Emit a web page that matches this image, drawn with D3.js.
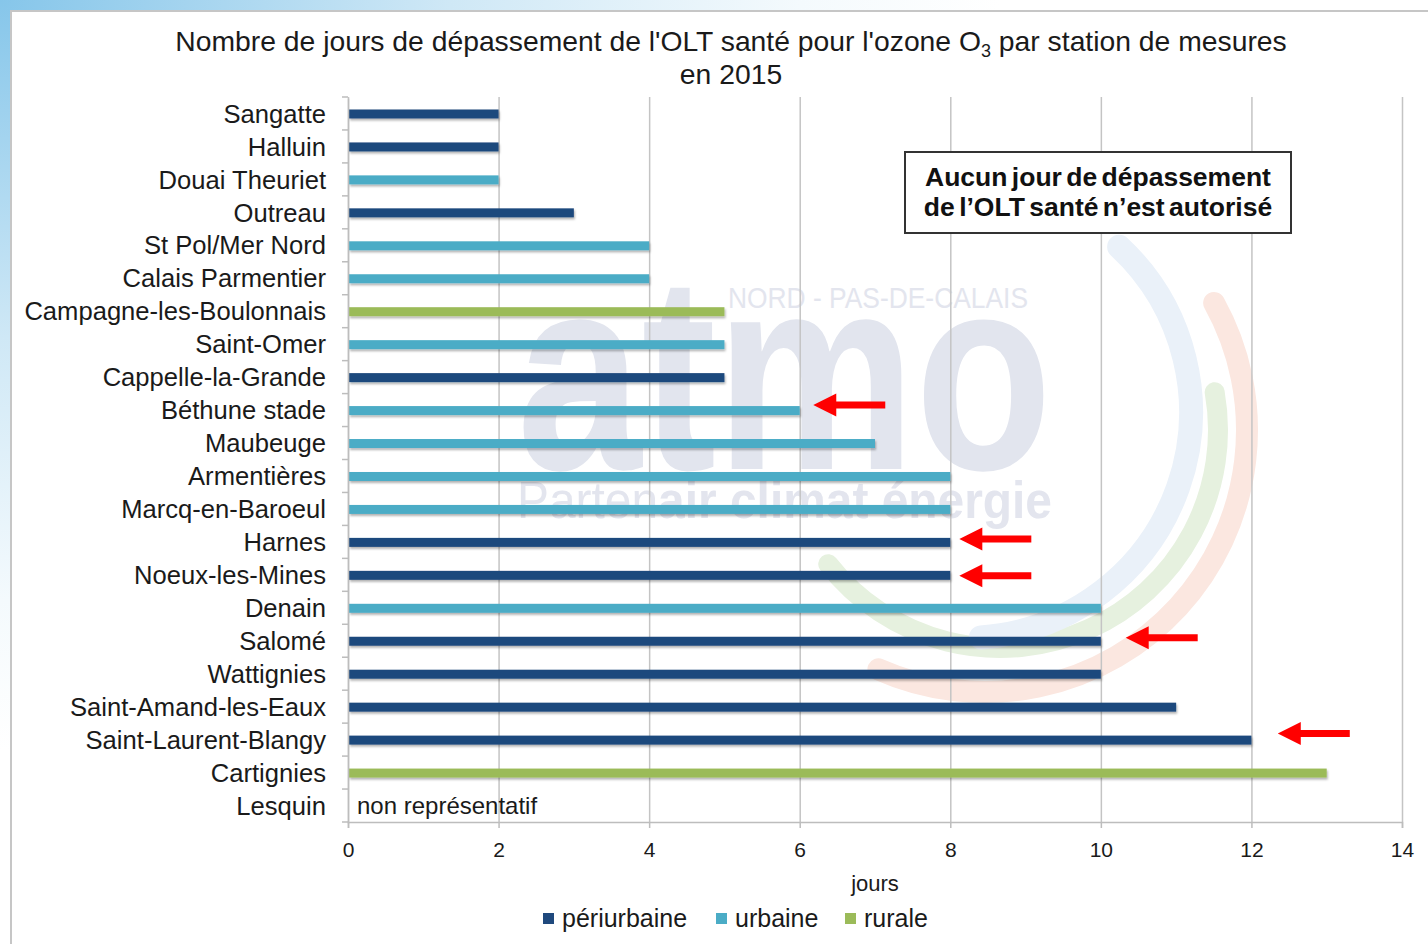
<!DOCTYPE html>
<html><head><meta charset="utf-8">
<script src="https://cdn.jsdelivr.net/npm/d3@7"></script>
<style>html,body{margin:0;padding:0;background:#fff;overflow:hidden}</style>
</head><body><svg id="c" width="1428" height="944"></svg>
<script>
// ---- data ----
const stations = ["Sangatte","Halluin","Douai Theuriet","Outreau","St Pol/Mer Nord","Calais Parmentier",
  "Campagne-les-Boulonnais","Saint-Omer","Cappelle-la-Grande","Béthune stade","Maubeuge","Armentières",
  "Marcq-en-Baroeul","Harnes","Noeux-les-Mines","Denain","Salomé","Wattignies","Saint-Amand-les-Eaux",
  "Saint-Laurent-Blangy","Cartignies","Lesquin"];
const values = [2,2,2,3,4,4,5,5,5,6,7,8,8,8,8,10,10,10,11,12,13,null];
const types = ["périurbaine","périurbaine","urbaine","périurbaine","urbaine","urbaine","rurale","urbaine",
  "périurbaine","urbaine","urbaine","urbaine","urbaine","périurbaine","périurbaine","urbaine","périurbaine",
  "périurbaine","périurbaine","périurbaine","rurale",null];
const typeNames = ["périurbaine","urbaine","rurale"];
const typeColors = ["#1f497d","#4bacc6","#9bbb59"];
const xTicks = [0,2,4,6,8,10,12,14];
const titleLine1a = "Nombre de jours de dépassement de l'OLT santé pour l'ozone O";
const titleSub = "3";
const titleLine1b = " par station de mesures";
const titleLine2 = "en 2015";
const xAxisTitle = "jours";
const missingNote = "non représentatif";
const boxLines = ["Aucun jour de dépassement","de l’OLT santé n’est autorisé"];
const arrowStations = ["Béthune stade","Harnes","Noeux-les-Mines","Salomé","Saint-Laurent-Blangy"];
const arrowTips = [6.18,8.12,8.12,10.33,12.35];

// ---- layout ----
const W=1428,H=944;
const svg=d3.select("#c");
const FONT="'Liberation Sans', Arial, Helvetica, sans-serif";
const x=d3.scaleLinear().domain([0,14]).range([348,1402]);
const y=d3.scaleBand().domain(stations).range([97,822]).padding(0);
const color=d3.scaleOrdinal().domain(typeNames).range(typeColors);

const defs=svg.append("defs");
const rg=defs.append("radialGradient").attr("id","bg").attr("gradientUnits","userSpaceOnUse")
  .attr("cx",0).attr("cy",0).attr("r",1000).attr("gradientTransform","scale(1,0.75)");
rg.append("stop").attr("offset","0").attr("stop-color","#86c6ea");
rg.append("stop").attr("offset","0.45").attr("stop-color","#cfe8f6");
rg.append("stop").attr("offset","0.8").attr("stop-color","#f4fafd");
rg.append("stop").attr("offset","1").attr("stop-color","#ffffff");
const f=defs.append("filter").attr("id","sh").attr("x","-5%").attr("y","-100%").attr("width","110%").attr("height","300%");
f.append("feDropShadow").attr("dx",1).attr("dy",2).attr("stdDeviation",1.2).attr("flood-color","#000").attr("flood-opacity",0.3);

svg.append("rect").attr("width",W).attr("height",H).attr("fill","url(#bg)");
svg.append("rect").attr("x",11).attr("y",11).attr("width",W).attr("height",H)
  .attr("fill","#fff").attr("stroke","#c6c6c6").attr("stroke-width",2);

// ---- watermark (faint logo) ----
const wm=svg.append("g");
function arcPath(cx,cy,r,a0,a1){const p=d3.path();p.arc(cx,cy,r,a0*Math.PI/180,a1*Math.PI/180);return p.toString();}
wm.append("path").attr("d",arcPath(985,430,262,-29,114)).attr("fill","none").attr("stroke","#fbe7e0").attr("stroke-width",22).attr("stroke-linecap","round");
wm.append("path").attr("d",arcPath(1000,430,218,-10,142)).attr("fill","none").attr("stroke","#e6f1df").attr("stroke-width",20).attr("stroke-linecap","round");
wm.append("path").attr("d",arcPath(965,412,226,-47,86)).attr("fill","none").attr("stroke","#eaf1f9").attr("stroke-width",24).attr("stroke-linecap","round");
wm.append("text").attr("x",517).attr("y",469).attr("font-family",FONT).attr("font-weight","bold")
  .attr("font-size",278).attr("textLength",535).attr("lengthAdjust","spacingAndGlyphs")
  .attr("fill","#e2e5ee").text("atmo");
wm.append("text").attr("x",728).attr("y",308).attr("font-family",FONT).attr("font-size",29)
  .attr("textLength",300).attr("lengthAdjust","spacingAndGlyphs").attr("fill","#e3e5ee").text("NORD - PAS-DE-CALAIS");
const pt=wm.append("text").attr("x",517).attr("y",518).attr("font-family",FONT).attr("font-size",52)
  .attr("textLength",535).attr("lengthAdjust","spacingAndGlyphs").attr("fill","#e3e5ee");
pt.append("tspan").text("Parten");
pt.append("tspan").attr("font-weight","bold").text("air climat énergie");

// ---- grid ----
const grid=svg.append("g").attr("transform","translate(0,822)")
  .call(d3.axisBottom(x).tickValues(xTicks).tickSize(-(822-97)).tickFormat(""));
grid.select(".domain").remove();
grid.selectAll("line").attr("stroke","#c4c4c4").attr("stroke-width",1.5);

// ---- bars ----
const data=stations.map((s,i)=>({s,v:values[i],t:types[i]}));
svg.append("g").selectAll("rect").data(data.filter(d=>d.v!=null)).join("rect")
  .attr("x",x(0)+1).attr("y",d=>y(d.s)+y.bandwidth()/2-4)
  .attr("width",d=>x(d.v)-x(0)-1).attr("height",9)
  .attr("fill",d=>color(d.t)).attr("filter","url(#sh)");

// ---- axes ----
const xa=svg.append("g").attr("transform","translate(0,822)")
  .call(d3.axisBottom(x).tickValues(xTicks).tickSize(6).tickPadding(14).tickFormat(d3.format("d")));
xa.select(".domain").attr("stroke","#bdbdbd").attr("stroke-width",1.5);
xa.selectAll("line").attr("stroke","#bdbdbd").attr("stroke-width",1.5);
xa.selectAll("text").attr("font-family",FONT).attr("font-size",21).attr("fill","#1a1a1a");

const ya=svg.append("g").attr("transform","translate(348,1)")
  .call(d3.axisLeft(y).tickSize(0).tickPadding(22));
ya.select(".domain").attr("stroke","#bdbdbd").attr("stroke-width",1.5);
ya.selectAll("text").attr("font-family",FONT).attr("font-size",25.6).attr("fill","#1a1a1a");
const bounds=stations.map(s=>y(s)).concat([y.range()[1]]);
svg.append("g").selectAll("line").data(bounds).join("line")
  .attr("x1",342).attr("x2",348).attr("y1",d=>d).attr("y2",d=>d)
  .attr("stroke","#bdbdbd").attr("stroke-width",1.5);

// missing note
data.filter(d=>d.v==null).forEach(d=>{
  svg.append("text").attr("x",x(0)+9).attr("y",y(d.s)+y.bandwidth()/2+8)
    .attr("font-family",FONT).attr("font-size",24).attr("fill","#1a1a1a").text(missingNote);
});

// ---- title ----
const t1=svg.append("text").attr("x",731).attr("y",51).attr("text-anchor","middle")
  .attr("font-family",FONT).attr("font-size",28.3).attr("fill","#1a1a1a");
t1.append("tspan").text(titleLine1a);
t1.append("tspan").attr("font-size",18).attr("dy",6).text(titleSub);
t1.append("tspan").attr("dy",-6).text(titleLine1b);
svg.append("text").attr("x",731).attr("y",84).attr("text-anchor","middle")
  .attr("font-family",FONT).attr("font-size",28.3).attr("fill","#1a1a1a").text(titleLine2);

// x axis title
svg.append("text").attr("x",875).attr("y",891).attr("text-anchor","middle")
  .attr("font-family",FONT).attr("font-size",22).attr("fill","#1a1a1a").text(xAxisTitle);

// ---- legend ----
const legX=[543,716,845];
const lg=svg.append("g").selectAll("g").data(typeNames).join("g")
  .attr("transform",(d,i)=>`translate(${legX[i]},913)`);
lg.append("rect").attr("width",11).attr("height",11).attr("fill",d=>color(d));
lg.append("text").attr("x",19).attr("y",14).attr("font-family",FONT).attr("font-size",25)
  .attr("fill","#1a1a1a").text(d=>d);

// ---- annotation box ----
svg.append("rect").attr("x",905).attr("y",152).attr("width",386).attr("height",81)
  .attr("fill","#fff").attr("stroke","#333").attr("stroke-width",2);
boxLines.forEach((l,i)=>{
  svg.append("text").attr("x",1098).attr("y",186+i*30).attr("text-anchor","middle")
    .attr("font-family",FONT).attr("font-weight","bold").attr("font-size",26.5)
    .attr("word-spacing",-3).attr("fill","#111").text(l);
});

// ---- arrows ----
const arrowDy=[-5,-3,1,-3,-6];
arrowStations.forEach((s,i)=>{
  const tx=x(arrowTips[i]), ty=y(s)+y.bandwidth()/2+arrowDy[i];
  const p=d3.path();
  p.moveTo(tx,ty); p.lineTo(tx+23,ty-11.5); p.lineTo(tx+23,ty-3.5); p.lineTo(tx+72,ty-3.5);
  p.lineTo(tx+72,ty+3.5); p.lineTo(tx+23,ty+3.5); p.lineTo(tx+23,ty+11.5); p.closePath();
  svg.append("path").attr("d",p.toString()).attr("fill","#ff0000");
});
</script></body></html>
